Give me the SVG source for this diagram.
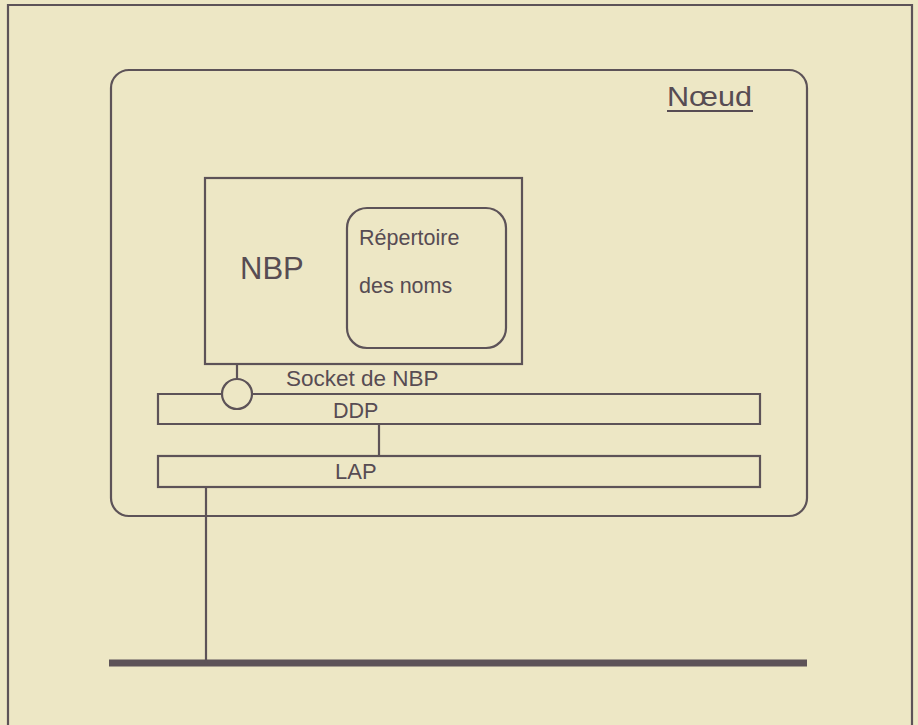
<svg xmlns="http://www.w3.org/2000/svg" width="918" height="725" viewBox="0 0 918 725">
  <style>
    .ln { fill: none; stroke: #5d5358; stroke-width: 2.2; }
    .tx { font-family: "Liberation Sans", Arial, sans-serif; fill: #574c53; }
  </style>
  <rect x="0" y="0" width="918" height="725" fill="#ede7c5"/>
  <path class="ln" d="M8,725 V5 H912 V725" stroke-width="2.5"/>

  <g id="noeud">
    <rect class="ln" x="111" y="70" width="696" height="446" rx="18" ry="18"/>
    <text class="tx" x="667" y="106" font-size="28" textLength="85" lengthAdjust="spacingAndGlyphs">Nœud</text>
    <line x1="667" y1="111" x2="753" y2="111" stroke="#574c53" stroke-width="2"/>
  </g>

  <g id="nbp">
    <rect class="ln" x="205" y="178" width="317" height="186"/>
    <text class="tx" x="240" y="279" font-size="31">NBP</text>
  </g>

  <g id="repertoire">
    <rect class="ln" x="347" y="208" width="159" height="140" rx="20" ry="20"/>
    <text class="tx" x="359" y="245" font-size="21.5">Répertoire</text>
    <text class="tx" x="359" y="293" font-size="21.5">des noms</text>
  </g>

  <g id="socket">
    <circle class="ln" cx="237" cy="394" r="15"/>
    <text class="tx" x="286" y="386" font-size="22.5">Socket de NBP</text>
  </g>

  <g id="ddp">
    <path class="ln" d="M222,394 H158 V424 H760 V394 H252"/>
    <text class="tx" x="333" y="418" font-size="21.5">DDP</text>
  </g>

  <g id="lap">
    <rect class="ln" x="158" y="456" width="602" height="31"/>
    <text class="tx" x="335" y="479" font-size="22">LAP</text>
  </g>

  <g id="bus">
    <line x1="109" y1="663" x2="807" y2="663" stroke="#5d5358" stroke-width="7"/>
  </g>

  <g id="connectors">
    <line class="ln" x1="237" y1="364" x2="237" y2="379"/>
    <line class="ln" x1="379" y1="424" x2="379" y2="456"/>
    <line class="ln" x1="206" y1="487" x2="206" y2="663"/>
  </g>
</svg>
